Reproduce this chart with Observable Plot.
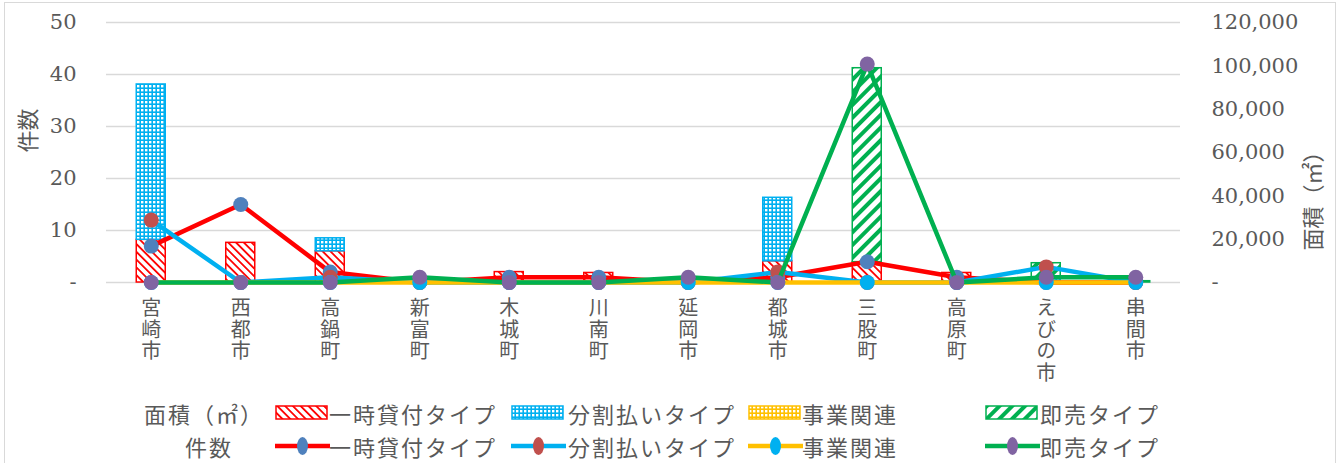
<!DOCTYPE html>
<html>
<head>
<meta charset="utf-8">
<script src="https://cdn.jsdelivr.net/npm/d3@7"></script>
<script src="https://cdn.jsdelivr.net/npm/@observablehq/plot@0.6"></script>
<style>
  html, body { margin: 0; padding: 0; background: #fff; width: 1341px; height: 463px; overflow: hidden; }
  #frame { position: absolute; left: 4px; top: 2px; width: 1332px; height: 470px; border: 1px solid #d9d9d9; box-sizing: border-box; }
  #chart { position: absolute; left: 0; top: 0; }
  .lg { position: absolute; height: 30px; line-height: 30px; font-family: "Noto Sans CJK JP", sans-serif; font-size: 22px; letter-spacing: 2px; color: #595959; white-space: nowrap; }
  .sw { position: absolute; }
</style>
</head>
<body>
<svg width="0" height="0" style="position:absolute">
  <defs>
    <pattern id="pRed" patternUnits="userSpaceOnUse" width="5.5" height="5.5" patternTransform="rotate(-45)">
      <rect width="5.5" height="5.5" fill="#fff"/>
      <rect width="1.8" height="5.5" fill="#ff0000"/>
    </pattern>
    <pattern id="pBlue" patternUnits="userSpaceOnUse" width="4" height="4">
      <rect width="4" height="4" fill="#00b0f0"/>
      <rect x="1" y="1" width="2.4" height="2.4" fill="#fff"/>
    </pattern>
    <pattern id="pYellow" patternUnits="userSpaceOnUse" width="4" height="4">
      <rect width="4" height="4" fill="#ffc000"/>
      <rect x="1" y="1" width="2.4" height="2.4" fill="#fff"/>
    </pattern>
    <pattern id="pGreen" patternUnits="userSpaceOnUse" width="9" height="9" patternTransform="rotate(45)">
      <rect width="9" height="9" fill="#fff"/>
      <rect width="4" height="9" fill="#00b050"/>
    </pattern>
  </defs>
</svg>
<div id="frame"></div>
<div id="chart"></div>
<div id="legend"></div>
<script>
// ---- data ----
const munis = ["宮崎市","西都市","高鍋町","新富町","木城町","川南町","延岡市","都城市","三股町","高原町","えびの市","串間市"];
const seriesNames = ["一時貸付タイプ","分割払いタイプ","事業関連","即売タイプ"];

// 面積 (㎡) — bars, right axis
const areaIchiji   = [19700, 18300, 14400, 0, 4800, 4400, 0,  9800,  9400, 4400,    0,   0];
const areaBunkatsu = [71700,     0,  6000, 0,    0,    0, 0, 29300,     0,    0, 2000,   0];
const areaJigyo    = [    0,     0,     0, 0,    0,    0, 0,     0,     0,    0,    0,   0];
const areaSokubai  = [    0,     0,     0, 0,    0,    0, 0,     0, 89500,    0, 6900, 600];

// 件数 — lines, left axis
const countIchiji   = [ 7, 15, 2, 0, 1, 1, 0, 1,  4, 1, 0, 0];
const countBunkatsu = [12,  0, 1, 0, 0, 0, 0, 2,  0, 0, 3, 0];
const countJigyo    = [ 0,  0, 0, 0, 0, 0, 0, 0,  0, 0, 0, 0];
const countSokubai  = [ 0,  0, 0, 1, 0, 0, 1, 0, 42, 0, 1, 1];

const countTicks = [0, 10, 20, 30, 40, 50];
const areaTicks = [0, 20000, 40000, 60000, 80000, 100000, 120000];
const leftLabel = "件数";
const rightLabel = "面積（㎡）";
const legendAreaLabel = "面積（㎡）";
const legendCountLabel = "件数";

// ---- styles ----
const barFill = ["url(#pRed)", "url(#pBlue)", "url(#pYellow)", "url(#pGreen)"];
const barStroke = ["#ff0000", "#00b0f0", "#ffc000", "#00b050"];
const lineColor = ["#ff0000", "#00b0f0", "#ffc000", "#00b050"];
const markColor = ["#4f81bd", "#c0504d", "#00b0f0", "#8064a2"];

const areaSeries = [areaIchiji, areaBunkatsu, areaJigyo, areaSokubai];
const countSeries = [countIchiji, countBunkatsu, countJigyo, countSokubai];
const k = 50 / 120000; // area -> count axis units

const barRows = [];
areaSeries.forEach((arr, si) => arr.forEach((v, i) => { if (v > 0) barRows.push({muni: munis[i], s: si, area: v}); }));

const jp = "'Noto Sans CJK JP', sans-serif";
const idx = d3.range(munis.length);

const marks = [
  Plot.ruleY(countTicks, {stroke: "#d9d9d9", strokeWidth: 1.4}),
  Plot.barY(barRows, Plot.stackY({
    x: "muni", y: d => d.area * k,
    fill: d => barFill[d.s], stroke: d => barStroke[d.s], strokeWidth: 1.5
  })),
];
countSeries.forEach((arr, si) => {
  marks.push(Plot.line(idx, {x: i => munis[i], y: i => arr[i], stroke: lineColor[si], strokeWidth: 4.5}));
  marks.push(Plot.dot(idx, {x: i => munis[i], y: i => arr[i], r: 7.5, fill: markColor[si], stroke: "none"}));
});
marks.push(
  Plot.axisY(countTicks, {anchor: "left", tickSize: 0, tickPadding: 30, label: null,
    tickFormat: d => d === 0 ? "-" : String(d)}),
  Plot.axisY(areaTicks.map(v => v * k), {anchor: "right", tickSize: 0, tickPadding: 31, label: null,
    tickFormat: d => { const v = Math.round(d / k); return v === 0 ? "-" : d3.format(",")(v); }}),
  Plot.text(munis, {x: d => d, text: d => d, frameAnchor: "bottom",
    dy: 15, fontSize: 20, fontFamily: jp, fill: "#595959"}),
  Plot.text([leftLabel], {frameAnchor: "left", rotate: -90, dx: -78, fontSize: 22, fontFamily: jp, fill: "#595959"}),
  Plot.text([rightLabel], {frameAnchor: "right", rotate: -90, dx: 133, dy: -12, fontSize: 22, fontFamily: jp, fill: "#595959"})
);

const chart = Plot.plot({
  width: 1341, height: 395,
  marginTop: 22, marginBottom: 113, marginLeft: 106, marginRight: 161,
  style: {fontFamily: "'DejaVu Serif', serif", fontSize: "21px", color: "#595959", background: "transparent", overflow: "visible"},
  x: {domain: munis, type: "band", paddingInner: 0.676, paddingOuter: 0.338, round: false, axis: null},
  y: {domain: [0, 50], axis: null},
  color: {type: "identity"},
  marks
});
// category labels written vertically (縦書き)
d3.select(chart).selectAll("text").filter(function() { return munis.includes(this.textContent); })
  .attr("writing-mode", "vertical-rl")
  .attr("text-anchor", "start")
  .attr("dy", null)
  .style("letter-spacing", "1.5px");
document.getElementById("chart").appendChild(chart);

// ---- legend ----
const legend = document.getElementById("legend");
const swX = [275, 511, 748, 985];
const txX = [329, 568, 802, 1040];
function addText(txt, left, top) {
  const d = document.createElement("div");
  d.className = "lg"; d.textContent = txt;
  d.style.left = left + "px"; d.style.top = top + "px";
  legend.appendChild(d);
}
addText(legendAreaLabel, 144, 398);
addText(legendCountLabel, 185, 431);
seriesNames.forEach((name, si) => {
  const s1 = document.createElementNS("http://www.w3.org/2000/svg", "svg");
  s1.setAttribute("class", "sw"); s1.setAttribute("width", 54); s1.setAttribute("height", 16);
  s1.style.left = swX[si] + "px"; s1.style.top = "405px";
  s1.innerHTML = `<rect x="1" y="1" width="51" height="13" fill="${barFill[si]}" stroke="${barStroke[si]}" stroke-width="1.5"/>`;
  legend.appendChild(s1);
  addText(name, txX[si], 398);
  const s2 = document.createElementNS("http://www.w3.org/2000/svg", "svg");
  s2.setAttribute("class", "sw"); s2.setAttribute("width", 56); s2.setAttribute("height", 22);
  s2.style.left = swX[si] + "px"; s2.style.top = "435px";
  s2.innerHTML = `<line x1="0" x2="55" y1="11" y2="11" stroke="${lineColor[si]}" stroke-width="4.5"/>` +
    `<ellipse cx="27.5" cy="11" rx="5.5" ry="9" fill="${markColor[si]}"/>`;
  legend.appendChild(s2);
  addText(name, txX[si], 431);
});
</script>
</body>
</html>
